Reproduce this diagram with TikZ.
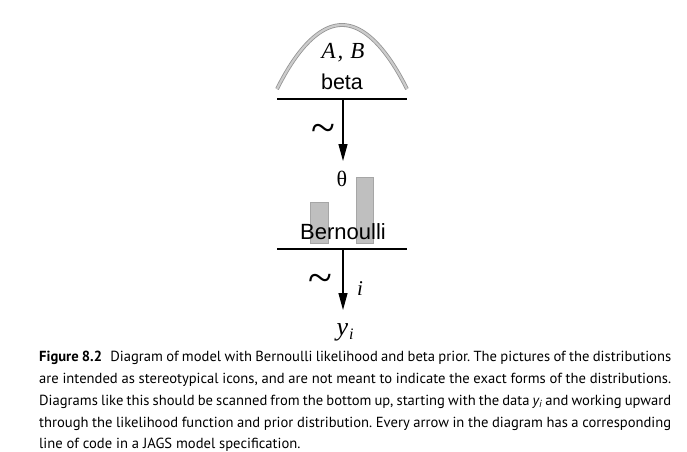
\documentclass[tikz,border=0pt]{standalone}
\usepackage{fontspec}
\setmainfont{Liberation Serif}
\newfontfamily\helv{Liberation Sans}
\newfontfamily\capfont{PT Sans}
\usetikzlibrary{arrows.meta}
\tikzset{
  baseline rule/.style={line width=1.4pt, black},
  tildearrow/.style={line width=1.2pt, -{Triangle[length=17pt,width=9pt]}},
  distname/.style={font=\helv\fontsize{21.5}{24}\selectfont, inner sep=0pt},
  mathlab/.style={inner sep=0pt},
  tildelab/.style={inner sep=0pt, font=\fontsize{44}{44}\selectfont},
  bar/.style={fill=gray!50, draw=gray!70, line width=0.5pt},
  capline/.style={anchor=base west, inner sep=0pt, font=\capfont\fontsize{14.6}{16}\selectfont\frenchspacing},
}
\begin{document}
\begin{tikzpicture}[x=1pt,y=-1pt]
\useasboundingbox (0,0) rectangle (687,451);
% beta prior icon
\draw[draw=gray!85, double=gray!40, double distance=2.2pt, line width=0.8pt]
  (277,89) parabola bend (342,25) (407,89);
\node[mathlab, font=\itshape\fontsize{23}{26}\selectfont] (AB) at (343,53) {A\hspace{2pt},\hspace{7pt}B};
\node[distname] (beta) at (342,82) {beta};
\draw[baseline rule] (277,99) coordinate (l1w) -- (407,99) coordinate (l1e);
\coordinate (a1s) at (343,99);
\coordinate (a1e) at (343,161);
\draw[tildearrow] (a1s) -- (a1e);
\node[tildelab] (t1) at (323,133) {\textasciitilde};
% Bernoulli likelihood icon
\node[mathlab, font=\fontsize{22}{24}\selectfont] (theta) at (342,179) {θ};
\draw[bar] (310,202) rectangle (328,243);
\draw[bar] (356,177) rectangle (373,243);
\node[distname, font=\helv\fontsize{22}{24}\selectfont] (bern) at (343,232) {Bernoulli};
\draw[baseline rule] (277,249) coordinate (l2w) -- (407,249) coordinate (l2e);
\coordinate (a2s) at (343,249);
\coordinate (a2e) at (343,310);
\draw[tildearrow] (a2s) -- (a2e);
\node[tildelab] (t2) at (320,283) {\textasciitilde};
\node[mathlab, font=\itshape\fontsize{21}{24}\selectfont] (idx) at (360,289) {i};
\node[mathlab, anchor=base, font=\itshape\fontsize{26}{28}\selectfont] (y) at (345,335) {y\raisebox{-4pt}{\fontsize{16}{16}\selectfont\hspace{1pt}i}};
% caption
\node[capline] (c1) at (39,361) {\makebox[632pt][s]{\textbf{Figure 8.2}\hspace{5pt} Diagram of model with Bernoulli likelihood and beta prior. The pictures of the distributions}};
\node[capline] (c2) at (39,383) {\makebox[632pt][s]{are intended as stereotypical icons, and are not meant to indicate the exact forms of the distributions.}};
\node[capline] (c3) at (39,405) {\makebox[632pt][s]{Diagrams like this should be scanned from the bottom up, starting with the data \textit{y\textsubscript{i}} and working upward}};
\node[capline] (c4) at (39,427) {\makebox[632pt][s]{through the likelihood function and prior distribution. Every arrow in the diagram has a corresponding}};
\node[capline] (c5) at (39,448) {line of code in a JAGS model specification.};
\end{tikzpicture}
\end{document}
